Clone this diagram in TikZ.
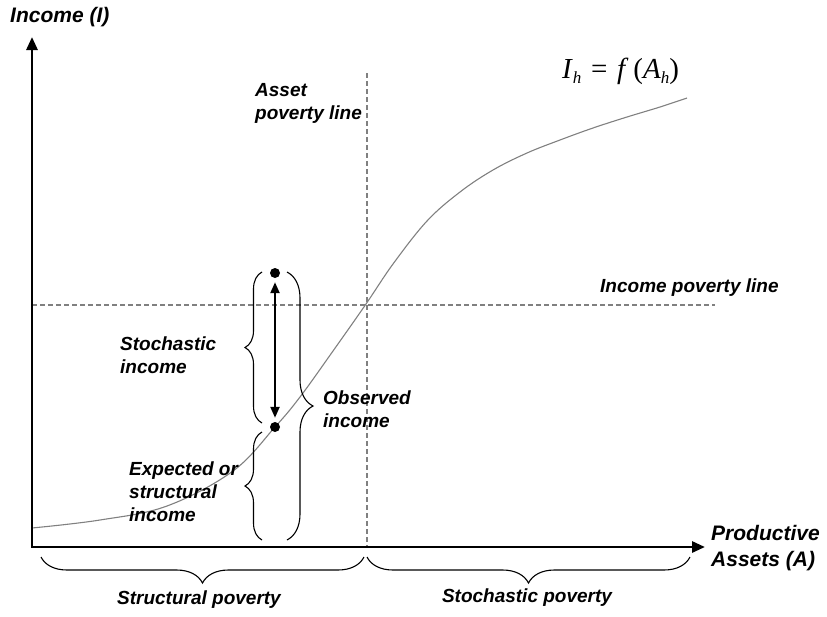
\documentclass[tikz,border=0pt]{standalone}
\usepackage{fontspec}
\setmainfont{Liberation Sans}
\newfontfamily\tnr{Liberation Serif}
\usetikzlibrary{arrows.meta,decorations.pathreplacing}
\begin{document}
\begin{tikzpicture}[x=1pt,y=-1pt,
  lbl/.style={font=\fontsize{19}{23}\selectfont\bfseries\itshape, align=left, inner sep=0pt},
  axlbl/.style={font=\fontsize{21}{26}\selectfont\bfseries\itshape, align=left, inner sep=0pt},
  axis/.style={line width=2.8pt, {Triangle[length=13pt,width=11pt]}-{Triangle[length=13pt,width=11pt]}},
  guide/.style={draw=gray, line width=1.8pt, dash pattern=on 5pt off 3pt},
  brc/.style={decorate, decoration={brace, amplitude=#1}, line width=1.1pt},
  dot/.style={circle, fill=black, inner sep=0pt, minimum size=10pt},
  fcurve/.style={draw=gray, line width=1.1pt},
  dbl/.style={line width=2.2pt, {Triangle[length=11pt,width=9pt]}-{Triangle[length=11pt,width=9pt]}, shorten <=4pt, shorten >=4pt}
]
\useasboundingbox (0,0) rectangle (827,616);

% guide lines
\coordinate (vtop) at (367,73);
\coordinate (vbot) at (367,548);
\coordinate (hl) at (32,305);
\coordinate (hr) at (715,305);
\draw[guide] (vtop) -- (vbot);
\draw[guide] (hl) -- (hr);

% curve
\draw[fcurve] plot[smooth, tension=0.6] coordinates {(32,528) (100,520) (167,506) (233,471) (275,427) (300,397) (333,351) (366,304) (393,264) (427,221) (460,192) (493,170) (527,153) (560,140) (593,128) (627,117) (660,107) (687,98)};

% axes
\coordinate (O) at (32,547);
\coordinate (ytip) at (32,37);
\coordinate (xtip) at (705,547);
\draw[axis] (ytip) -- (O) -- (xtip);

% dots and double arrow
\node[dot] (dtop) at (275,273) {};
\node[dot] (dbot) at (275,427) {};
\draw[dbl] (dtop) -- (dbot);

% vertical braces
\coordinate (b1a) at (262,423);
\coordinate (b1b) at (262,272);
\draw[brc=17pt] (b1a) -- (b1b);
\coordinate (b2a) at (262,540);
\coordinate (b2b) at (262,432);
\draw[brc=17pt] (b2a) -- (b2b);
\coordinate (b3a) at (287,272);
\coordinate (b3b) at (287,540);
\draw[brc=26pt] (b3a) -- (b3b);

% horizontal braces
\coordinate (h1a) at (364,557);
\coordinate (h1b) at (41,557);
\draw[brc=26pt] (h1a) -- (h1b);
\coordinate (h2a) at (690,557);
\coordinate (h2b) at (367,557);
\draw[brc=26pt] (h2a) -- (h2b);

% labels
\node[axlbl, anchor=west] (ylab) at (10,17) {Income (I)};
\node[axlbl, anchor=west] (xlab) at (711,548) {Productive\\Assets (A)};
\node[lbl, anchor=west] (apl) at (255,103) {Asset\\poverty line};
\node[lbl, anchor=west] (ipl) at (600,288) {Income poverty line};
\node[lbl, anchor=west] (si) at (120,355) {Stochastic\\income};
\node[lbl, anchor=west] (oi) at (323,409) {Observed\\income};
\node[lbl, anchor=west] (ei) at (129,492) {Expected or\\structural\\income};
\node[lbl] (spv) at (199,600) {Structural poverty};
\node[lbl] (stp) at (527,598) {Stochastic poverty};
\node[font=\tnr\fontsize{29}{30}\selectfont, inner sep=0pt, anchor=base west] (fx) at (562,78)
  {\textit{I}\raisebox{-0.4ex}{\fontsize{17}{18}\selectfont\textit{h}}\,\,=\,\,\textit{f}\,(\textit{A}\raisebox{-0.4ex}{\fontsize{17}{18}\selectfont\textit{h}})};
\end{tikzpicture}
\end{document}
